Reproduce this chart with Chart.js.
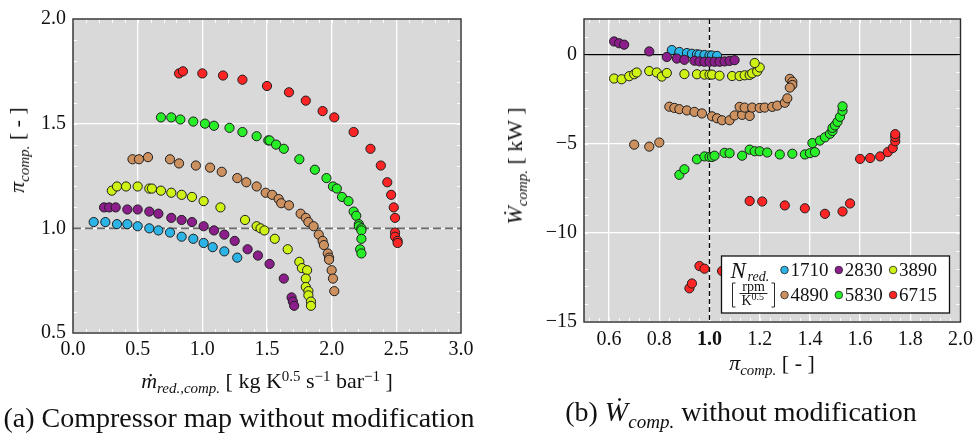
<!DOCTYPE html>
<html>
<head>
<meta charset="utf-8">
<script src="https://cdn.jsdelivr.net/npm/chart.js@4.4.1/dist/chart.umd.min.js"></script>
<style>
  body { margin:0; background:#fff; width:979px; height:440px; position:relative; overflow:hidden; font-family:"Liberation Serif", serif; color:#111; }
  canvas { position:absolute; top:0; }
  #chartMap { left:0; }
  #chartPower { left:490px; }
  .lbl { position:absolute; white-space:nowrap; transform:translate(-50%,-50%); font-size:22px; line-height:1; }
  .lbl sub { font-size:68%; vertical-align:-0.35em; line-height:0; }
  .lbl sup { font-size:68%; vertical-align:0.5em; line-height:0; }
  .rot { transform:translate(-50%,-50%) rotate(-90deg); }
  .cap { font-size:28px; }
</style>
</head>
<body>
<canvas id="chartMap" width="490" height="440"></canvas>
<canvas id="chartPower" width="489" height="440"></canvas>

<div class="lbl" style="left:267px;top:381px"><i>ṁ</i><sub><i>red.,comp.</i></sub> [ kg K<sup>0.5</sup> s<sup>−1</sup> bar<sup>−1</sup> ]</div>
<div class="lbl rot" style="left:17px;top:150px"><i>π</i><sub><i>comp.</i></sub> [ - ]</div>
<div class="lbl" style="left:772px;top:363px"><i>π</i><sub><i>comp.</i></sub> [ - ]</div>
<div class="lbl rot" style="left:515px;top:166px"><i>Ẇ</i><sub><i>comp.</i></sub> [ kW ]</div>
<div class="lbl cap" style="left:239px;top:418px">(a) Compressor map without modification</div>
<div class="lbl cap" style="left:741px;top:412px">(b) <i>Ẇ</i><sub><i>comp.</i></sub> without modification</div>

<script>
// ticks
var ticksMdot = [0.0, 0.5, 1.0, 1.5, 2.0, 2.5, 3.0]
var ticksPi = [0.5, 1.0, 1.5, 2.0]
var ticksPiB = [0.6, 0.8, 1.0, 1.2, 1.4, 1.6, 1.8, 2.0]
var ticksW = [-15, -10, -5, 0]

var speeds = ['1710', '2830', '3890', '4890', '5830', '6715']
var colores = ['#2cb4e6', '#8c1e8c', '#cff214', '#cd915f', '#28ee28', '#ff2525']

// (a) mapa del compresor: mdot vs pi
var mdot1710 = [0.16,0.25,0.34,0.42,0.50,0.59,0.66,0.75,0.84,0.93,1.01,1.08,1.17,1.27]
var pi1710   = [1.03,1.03,1.02,1.02,1.01,1.00,0.99,0.98,0.96,0.95,0.93,0.91,0.89,0.86]
var mdot2830 = [0.24,0.28,0.33,0.42,0.50,0.59,0.66,0.76,0.84,0.92,1.01,1.09,1.17,1.25,1.35,1.43,1.52,1.63,1.69,1.70,1.71]
var pi2830   = [1.10,1.10,1.10,1.09,1.09,1.08,1.07,1.05,1.04,1.03,1.01,0.99,0.97,0.94,0.90,0.87,0.83,0.76,0.67,0.65,0.63]
var mdot3890 = [0.30,0.34,0.41,0.50,0.59,0.61,0.68,0.76,0.84,0.92,1.01,1.14,1.33,1.42,1.45,1.48,1.56,1.66,1.75,1.77,1.81,1.80,1.80,1.82,1.82,1.84,1.84]
var pi3890   = [1.18,1.20,1.20,1.20,1.19,1.19,1.18,1.17,1.16,1.15,1.13,1.10,1.04,1.01,1.00,0.99,0.95,0.90,0.84,0.81,0.80,0.76,0.72,0.70,0.68,0.65,0.63]
var mdot4890 = [0.46,0.51,0.58,0.75,0.82,0.95,1.06,1.15,1.27,1.34,1.42,1.49,1.54,1.59,1.61,1.67,1.76,1.80,1.82,1.86,1.90,1.93,1.94,1.97,1.98,1.98,2.00,2.01,2.02]
var pi4890   = [1.33,1.33,1.34,1.33,1.31,1.30,1.29,1.27,1.24,1.22,1.20,1.17,1.16,1.14,1.12,1.11,1.07,1.05,1.03,1.01,0.97,0.94,0.92,0.88,0.86,0.85,0.80,0.76,0.70]
var mdot5830 = [0.68,0.76,0.83,0.93,1.02,1.09,1.21,1.31,1.42,1.51,1.52,1.57,1.63,1.75,1.87,1.96,2.01,2.04,2.08,2.13,2.17,2.19,2.21,2.21,2.23,2.23,2.23,2.22,2.23]
var pi5830   = [1.53,1.53,1.52,1.51,1.50,1.49,1.48,1.46,1.44,1.42,1.42,1.40,1.38,1.33,1.28,1.24,1.20,1.19,1.15,1.13,1.08,1.06,1.02,1.01,1.00,0.99,0.95,0.90,0.88]
var mdot6715 = [0.82,0.85,1.00,1.16,1.31,1.50,1.67,1.80,1.93,2.02,2.17,2.30,2.38,2.43,2.46,2.48,2.49,2.49,2.49,2.51,2.51]
var pi6715   = [1.74,1.75,1.74,1.73,1.71,1.68,1.65,1.61,1.56,1.53,1.46,1.38,1.30,1.22,1.16,1.10,1.05,0.98,0.96,0.94,0.93]

// (b) potencia: pi vs W [kW]
var piB1710 = [0.85,0.88,0.91,0.93,0.95,0.96,0.98,1.00,1.01,1.03]
var w1710   = [0.26,0.15,0.09,0.05,0.02,0.00,-0.02,-0.04,-0.05,-0.07]
var piB2830 = [0.62,0.64,0.66,0.76,0.83,0.87,0.90,0.94,0.96,0.98,1.00,1.02,1.04,1.06,1.08,1.10]
var w2830   = [0.74,0.64,0.56,0.18,-0.13,-0.22,-0.29,-0.34,-0.38,-0.40,-0.40,-0.40,-0.40,-0.38,-0.35,-0.31]
var piB3890 = [0.62,0.65,0.68,0.70,0.71,0.76,0.79,0.81,0.83,0.90,0.95,0.98,1.00,1.01,1.04,1.09,1.12,1.14,1.16,1.17,1.19,1.20,1.18]
var w3890   = [-1.34,-1.38,-1.21,-1.10,-1.00,-0.92,-1.00,-1.23,-1.03,-1.09,-1.10,-1.12,-1.12,-1.12,-1.18,-1.20,-1.20,-1.16,-1.14,-1.05,-0.94,-0.72,-0.47]
var piB4890 = [0.70,0.76,0.80,0.84,0.86,0.88,0.91,0.94,0.97,1.01,1.03,1.05,1.08,1.10,1.13,1.16,1.12,1.14,1.17,1.20,1.22,1.25,1.27,1.30,1.31,1.32,1.33,1.33,1.32]
var w4890   = [-5.05,-5.16,-4.93,-2.92,-2.99,-3.06,-3.13,-3.21,-3.30,-3.46,-3.57,-3.68,-3.68,-3.41,-3.38,-3.44,-2.93,-2.97,-2.97,-2.99,-2.97,-2.93,-2.86,-2.70,-2.45,-1.36,-1.52,-1.70,-1.85]
var piB5830 = [0.88,0.90,0.95,0.98,1.00,1.01,1.02,1.06,1.08,1.13,1.16,1.18,1.20,1.23,1.28,1.33,1.38,1.40,1.42,1.41,1.44,1.46,1.48,1.49,1.49,1.50,1.51,1.52,1.53,1.53]
var w5830   = [-6.74,-6.43,-5.87,-5.71,-5.74,-5.74,-5.67,-5.51,-5.53,-5.67,-5.33,-5.42,-5.42,-5.49,-5.60,-5.56,-5.60,-5.53,-5.47,-4.96,-4.82,-4.64,-4.44,-4.28,-4.11,-3.97,-3.77,-3.49,-3.15,-2.90]
var piB6715 = [0.92,0.93,0.96,0.98,1.05,1.16,1.21,1.30,1.38,1.46,1.53,1.56,1.60,1.64,1.68,1.71,1.73,1.74,1.74,1.74]
var w6715   = [-13.11,-12.84,-11.86,-12.01,-12.14,-8.21,-8.24,-8.46,-8.62,-8.93,-8.80,-8.35,-5.85,-5.80,-5.71,-5.47,-5.24,-4.86,-4.62,-4.46]

var fuente = '"Liberation Serif", "Times New Roman", serif'

function toPoints(xs, ys){
   return xs.map(function(x, i){ return {x: x, y: ys[i]} })
}

function makeDatasets(xsList, ysList){
   var list = []
   for (var i = 0; i < speeds.length; i++) {
      list.push({
         label: speeds[i],
         data: toPoints(xsList[i], ysList[i]),
         backgroundColor: colores[i],
         borderColor: '#1e1e1e',
         borderWidth: 1,
         pointRadius: 4.6,
         order: speeds.length - i
      })
   }
   return list
}

function minorList(min, max, step){
   var out = []
   var n = Math.round((max - min) / step)
   for (var i = 0; i <= n; i++) out.push(min + i * step)
   return out
}

// fondo gris, ticks menores, lineas de referencia y marco
var marcoPlugin = {
   id: 'marco',
   beforeDraw: function(chart, args, o){
      var ctx = chart.ctx, a = chart.chartArea
      ctx.save()
      ctx.fillStyle = '#d9d9d9'
      ctx.fillRect(a.left, a.top, a.right - a.left, a.bottom - a.top)
      ctx.restore()
   },
   beforeDatasetsDraw: function(chart, args, o){
      var ctx = chart.ctx, a = chart.chartArea
      var sx = chart.scales.x, sy = chart.scales.y
      ctx.save()
      ctx.strokeStyle = '#ffffff'
      ctx.lineWidth = 1
      o.minorX.forEach(function(v){
         var px = Math.round(sx.getPixelForValue(v)) + 0.5
         ctx.beginPath(); ctx.moveTo(px, a.top); ctx.lineTo(px, a.top + 4)
         ctx.moveTo(px, a.bottom); ctx.lineTo(px, a.bottom - 4); ctx.stroke()
      })
      o.minorY.forEach(function(v){
         var py = Math.round(sy.getPixelForValue(v)) + 0.5
         ctx.beginPath(); ctx.moveTo(a.left, py); ctx.lineTo(a.left + 4, py)
         ctx.moveTo(a.right, py); ctx.lineTo(a.right - 4, py); ctx.stroke()
      })
      if (o.hline !== undefined) {
         var py = sy.getPixelForValue(o.hline)
         ctx.strokeStyle = o.hColor
         ctx.lineWidth = o.hWidth
         ctx.setLineDash(o.hDash)
         ctx.beginPath(); ctx.moveTo(a.left, py); ctx.lineTo(a.right, py); ctx.stroke()
      }
      if (o.vline !== undefined) {
         var px = sx.getPixelForValue(o.vline)
         ctx.strokeStyle = '#000'
         ctx.lineWidth = 1.3
         ctx.setLineDash([5, 3])
         ctx.beginPath(); ctx.moveTo(px, a.top); ctx.lineTo(px, a.bottom); ctx.stroke()
      }
      ctx.restore()
   },
   afterDraw: function(chart){
      var ctx = chart.ctx, a = chart.chartArea
      ctx.save()
      ctx.strokeStyle = '#2a2a2a'
      ctx.lineWidth = 1.4
      ctx.strokeRect(a.left, a.top, a.right - a.left, a.bottom - a.top)
      ctx.restore()
   }
}

// leyenda dentro del area del grafico (b)
var leyendaPlugin = {
   id: 'leyenda',
   afterDraw: function(chart){
      var ctx = chart.ctx, a = chart.chartArea
      var w = 228, h = 57
      var x0 = a.right - 11 - w, y0 = a.bottom - 9 - h
      ctx.save()
      ctx.fillStyle = '#fff'
      ctx.strokeStyle = '#111'
      ctx.lineWidth = 1.3
      ctx.fillRect(x0, y0, w, h)
      ctx.strokeRect(x0, y0, w, h)

      ctx.fillStyle = '#111'
      ctx.textBaseline = 'alphabetic'
      ctx.textAlign = 'left'
      ctx.font = 'italic 23px ' + fuente
      ctx.fillText('N', x0 + 9, y0 + 22)
      ctx.font = 'italic 14px ' + fuente
      ctx.fillText('red.', x0 + 26, y0 + 25)

      // [ rpm / K^0.5 ]
      ctx.lineWidth = 0.9
      ctx.beginPath()
      ctx.moveTo(x0 + 14, y0 + 27); ctx.lineTo(x0 + 11, y0 + 27); ctx.lineTo(x0 + 11, y0 + 51); ctx.lineTo(x0 + 14, y0 + 51)
      ctx.moveTo(x0 + 50, y0 + 27); ctx.lineTo(x0 + 53, y0 + 27); ctx.lineTo(x0 + 53, y0 + 51); ctx.lineTo(x0 + 50, y0 + 51)
      ctx.moveTo(x0 + 18, y0 + 37.5); ctx.lineTo(x0 + 46, y0 + 37.5)
      ctx.stroke()
      ctx.textAlign = 'center'
      ctx.font = '14px ' + fuente
      ctx.fillText('rpm', x0 + 32, y0 + 35)
      ctx.textAlign = 'left'
      ctx.fillText('K', x0 + 20, y0 + 49)
      ctx.font = '10px ' + fuente
      ctx.fillText('0.5', x0 + 30, y0 + 44)

      chart.data.datasets.forEach(function(ds, i){
         var col = i % 3, row = Math.floor(i / 3)
         var cx = x0 + 63 + col * 54.3, cy = y0 + 14 + row * 25
         ctx.beginPath()
         ctx.arc(cx, cy, 3.8, 0, 2 * Math.PI)
         ctx.fillStyle = ds.backgroundColor
         ctx.fill()
         ctx.lineWidth = 0.8
         ctx.strokeStyle = '#222'
         ctx.stroke()
         ctx.fillStyle = '#111'
         ctx.font = '19px ' + fuente
         ctx.textBaseline = 'middle'
         ctx.fillText(ds.label, cx + 6, cy + 1)
      })
      ctx.restore()
   }
}

function makeOptions(cfg){
   return {
      responsive: false,
      animation: false,
      events: [],
      layout: { padding: { left: 0, right: cfg.padRight, top: 9, bottom: 0 } },
      plugins: {
         legend: { display: false },
         tooltip: { enabled: false },
         marco: cfg.marco
      },
      scales: {
         x: {
            type: 'linear',
            min: cfg.xMin, max: cfg.xMax,
            afterBuildTicks: function(scale){ scale.ticks = cfg.xTicks.map(function(v){ return {value: v} }) },
            afterFit: function(scale){ scale.height = cfg.xHeight },
            grid: { color: '#ffffff', lineWidth: 1.3, drawTicks: false },
            border: { display: false },
            ticks: {
               padding: cfg.xPad,
               color: '#111',
               maxRotation: 0,
               autoSkip: false,
               font: function(c){
                  var bold = cfg.boldOne && c.tick && Math.abs(c.tick.value - 1) < 1e-9
                  return { family: fuente, size: 20, weight: bold ? 'bold' : 'normal' }
               },
               callback: function(v){ return Number(v).toFixed(1) }
            }
         },
         y: {
            type: 'linear',
            min: cfg.yMin, max: cfg.yMax,
            afterBuildTicks: function(scale){ scale.ticks = cfg.yTicks.map(function(v){ return {value: v} }) },
            afterFit: function(scale){ scale.width = cfg.yWidth },
            grid: { color: '#ffffff', lineWidth: 1.3, drawTicks: false },
            border: { display: false },
            ticks: {
               padding: 7,
               color: '#111',
               autoSkip: false,
               font: { family: fuente, size: 20 },
               callback: cfg.yFormat
            }
         }
      }
   }
}

var chartMap = new Chart(document.getElementById('chartMap').getContext('2d'), {
   type: 'scatter',
   data: { datasets: makeDatasets(
      [mdot1710, mdot2830, mdot3890, mdot4890, mdot5830, mdot6715],
      [pi1710, pi2830, pi3890, pi4890, pi5830, pi6715]) },
   options: makeOptions({
      padRight: 29, xHeight: 107, yWidth: 73, xPad: 5,
      xMin: 0, xMax: 3, yMin: 0.5, yMax: 2.0,
      xTicks: ticksMdot, yTicks: ticksPi,
      yFormat: function(v){ return Number(v).toFixed(1) },
      marco: { minorX: minorList(0, 3, 0.1), minorY: minorList(0.5, 2.0, 0.1),
               hline: 1.0, hColor: '#6a6a6a', hWidth: 1.8, hDash: [8, 4] }
   }),
   plugins: [marcoPlugin]
})

var chartPower = new Chart(document.getElementById('chartPower').getContext('2d'), {
   type: 'scatter',
   data: { datasets: makeDatasets(
      [piB1710, piB2830, piB3890, piB4890, piB5830, piB6715],
      [w1710, w2830, w3890, w4890, w5830, w6715]) },
   options: makeOptions({
      padRight: 17, xHeight: 118, yWidth: 94, xPad: 6, boldOne: true,
      xMin: 0.5, xMax: 2.0, yMin: -15, yMax: 2,
      xTicks: ticksPiB, yTicks: ticksW,
      yFormat: function(v){ return v < 0 ? '\u2212' + Math.abs(v) : String(v) },
      marco: { minorX: minorList(0.52, 2.0, 0.04), minorY: minorList(-15, 2, 1),
               hline: 0, hColor: '#000', hWidth: 1.3, hDash: [],
               vline: 1.0 }
   }),
   plugins: [marcoPlugin, leyendaPlugin]
})
</script>
</body>
</html>
